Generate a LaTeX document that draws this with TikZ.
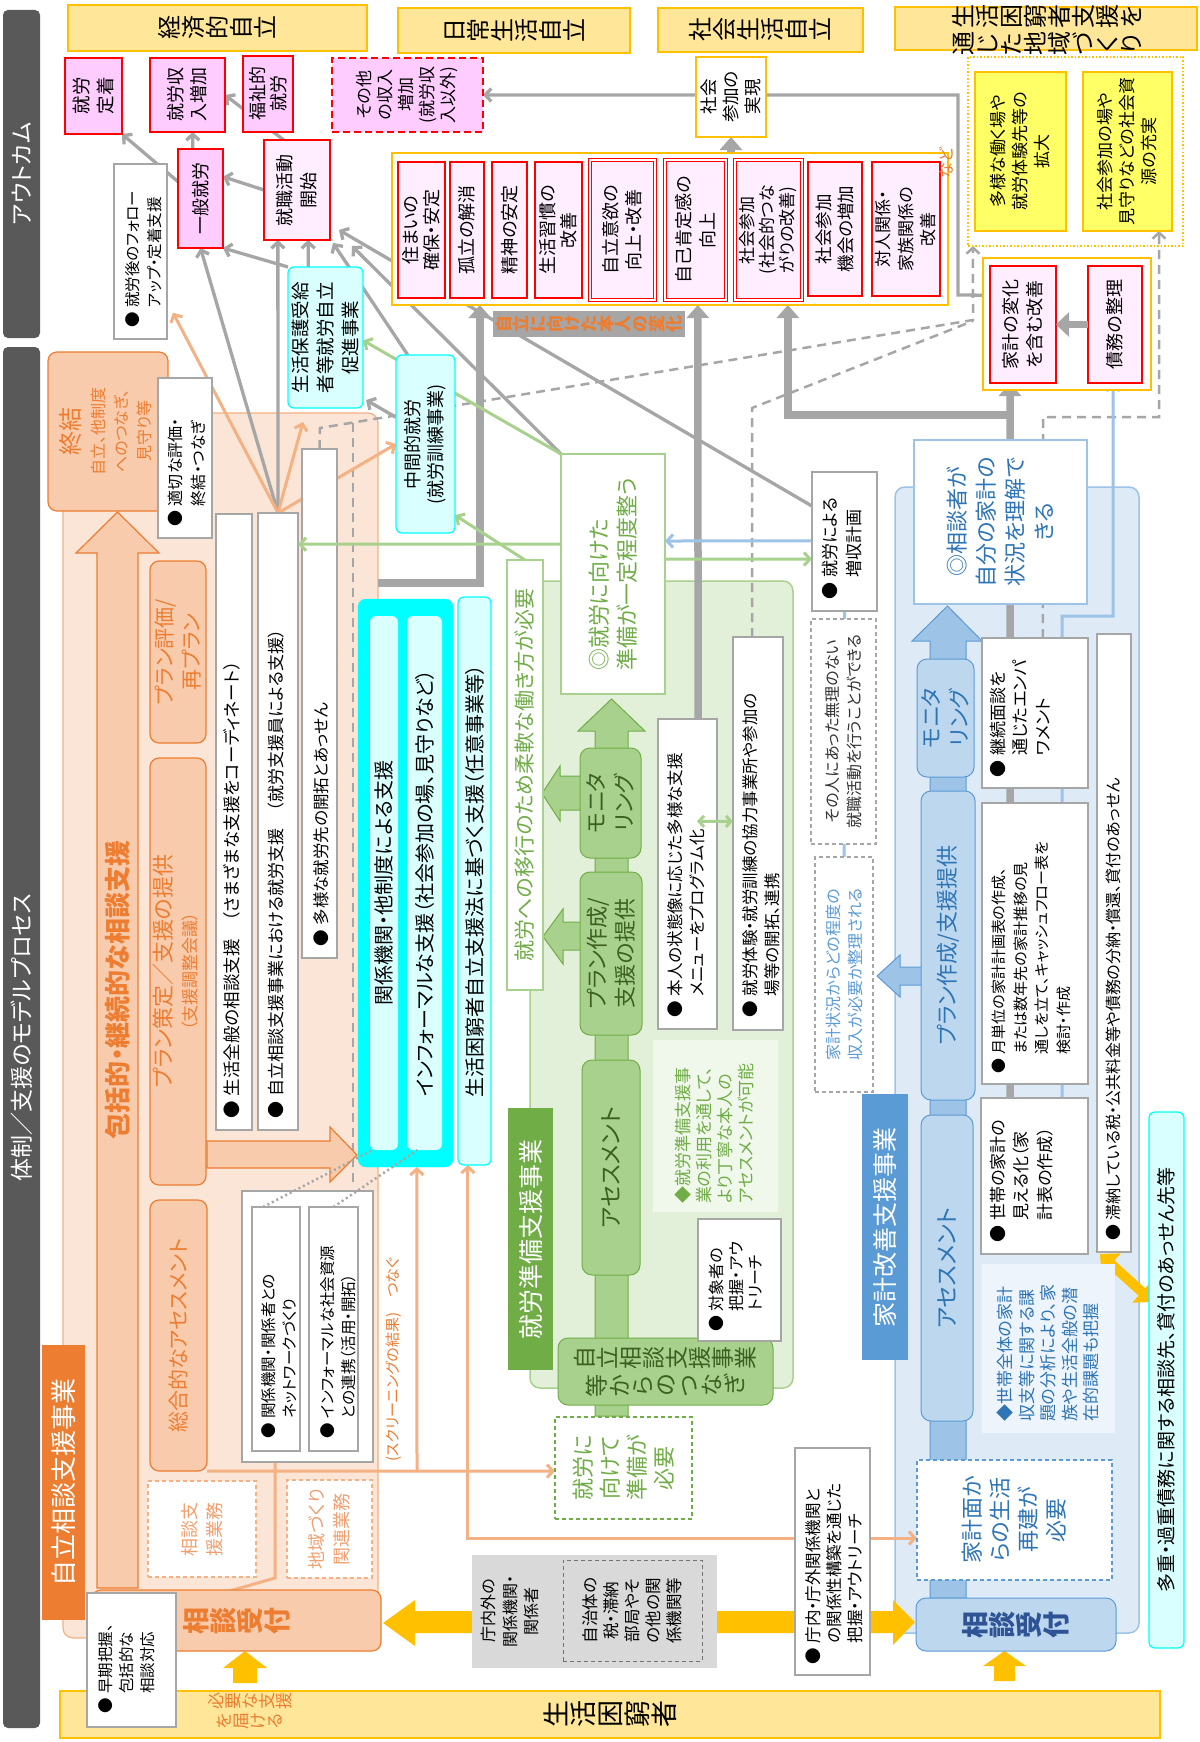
\documentclass[tikz,border=0pt]{standalone}
\usepackage{graphicx}
\usepackage{fontspec}
\setmainfont{Noto Sans CJK JP}[RawFeature={+palt}]
\usetikzlibrary{arrows.meta,fit,calc}
\ExplSyntaxOn
\NewDocumentCommand\tate{m}{\tl_map_inline:nn{#1}{\rotatebox[origin=c]{90}{\makebox[1em]{\rule[-0.12em]{0pt}{1em}##1}}}}
\ExplSyntaxOff
\newcommand\fs[2]{\fontsize{#1}{#2}\selectfont}
\newcommand\ltab[1]{\begin{tabular}{@{}l@{}}#1\end{tabular}}
\newcommand\bul[1]{\begin{tabular}{@{}l@{\hspace{0.3em}}l@{}}●&\begin{tabular}[t]{@{}l@{}}#1\end{tabular}\end{tabular}}
\newcommand\RB[6]{\node[#2,fit={(#3,#4)(#5,#6)}] (#1) {};}
\definecolor{dbar}{HTML}{595959}
\definecolor{hdrF}{HTML}{FFE699}
\definecolor{hdrD}{HTML}{FFC000}
\definecolor{pinkF}{HTML}{FFCCFF}
\definecolor{pinkL}{HTML}{FFEEFF}
\definecolor{redD}{HTML}{FF0000}
\definecolor{orD}{HTML}{ED7D31}
\definecolor{orM}{HTML}{F8CBAD}
\definecolor{orL}{HTML}{FBE5D6}
\definecolor{orLn}{HTML}{F4B183}
\definecolor{orT}{HTML}{F0A070}
\definecolor{grLn}{HTML}{A6A6A6}
\definecolor{grBx}{HTML}{A6A6A6}
\definecolor{gyF}{HTML}{D9D9D9}
\definecolor{cyD}{HTML}{00FFFF}
\definecolor{cyL}{HTML}{D9FFFF}
\definecolor{gnF}{HTML}{E2F0D9}
\definecolor{gnM}{HTML}{A9D18E}
\definecolor{gnD}{HTML}{70AD47}
\definecolor{gnX}{HTML}{3B6020}
\definecolor{gnN}{HTML}{F0F7EB}
\definecolor{blF}{HTML}{DEEBF7}
\definecolor{blM}{HTML}{BDD7EE}
\definecolor{blB}{HTML}{9DC3E6}
\definecolor{blD}{HTML}{5B9BD5}
\definecolor{blT}{HTML}{2E75B6}
\definecolor{blX}{HTML}{2F5496}
\definecolor{blN}{HTML}{EDF4FB}
\definecolor{ylA}{HTML}{FFC000}
\definecolor{ylB}{HTML}{FFFF66}
\tikzset{
 B/.style={inner sep=0pt,outer sep=0pt},
 tx/.style={rotate=90,align=center,inner sep=0pt},
 bl/.style={rotate=90,anchor=north west,inner sep=0pt},
 bar/.style={B,fill=dbar,rounded corners=5pt},
 hdr/.style={B,draw=hdrD,fill=hdrF,line width=1.5pt},
 obox/.style={B,draw=redD,fill=pinkF,line width=2.2pt},
 sbox/.style={obox,dash pattern=on 7pt off 4pt},
 pbox/.style={B,draw=redD,fill=pinkL,line width=2.2pt},
 dbox/.style={B,draw=redD,fill=pinkL,line width=1pt,double=white,double distance=1.6pt},
 wbox/.style={B,draw=grBx,fill=white,line width=1.3pt},
 wdash/.style={wbox,dash pattern=on 4pt off 3pt},
 ybox/.style={B,draw=hdrD,fill=white,line width=1.5pt},
 ydot/.style={B,draw=hdrD,line width=1.5pt,dash pattern=on 1.5pt off 2pt},
 yel/.style={B,draw=hdrD,fill=ylB,line width=1.5pt},
 obig/.style={B,draw=orD,fill=orM,line width=1.2pt,rounded corners=9pt},
 opanel/.style={B,draw=orLn,fill=orL,line width=1.2pt,rounded corners=10pt},
 odash/.style={B,draw=orLn,fill=white,line width=1.5pt,dash pattern=on 4pt off 3pt},
 olab/.style={B,fill=orD},
 cyo/.style={B,fill=cyD,draw=cyD,rounded corners=8pt},
 cyi/.style={B,fill=cyL,rounded corners=6pt},
 cyb/.style={B,fill=cyL,draw=cyD,line width=1.2pt,rounded corners=6pt},
 gpan/.style={B,fill=gnF,draw=gnM,line width=1.5pt,rounded corners=10pt},
 gpill/.style={B,fill=gnM,draw=gnD,line width=1pt,rounded corners=10pt},
 glab/.style={B,fill=gnD},
 gwb/.style={B,fill=white,draw=gnM,line width=1.3pt},
 gdash/.style={B,fill=white,draw=gnD,line width=1.3pt,dash pattern=on 4pt off 3pt},
 gnote/.style={B,fill=gnN},
 bpan/.style={B,fill=blF,draw=blB,line width=1.5pt,rounded corners=10pt},
 bpill/.style={B,fill=blM,draw=blD,line width=1pt,rounded corners=10pt},
 blab/.style={B,fill=blD},
 bwb/.style={B,fill=white,draw=blB,line width=1.5pt},
 bdash/.style={B,fill=white,draw=blD,line width=1.3pt,dash pattern=on 4pt off 3pt},
 bnote/.style={B,fill=blN},
 gybox/.style={B,fill=gyF},
 gyin/.style={B,draw=black!55,line width=1pt,dash pattern=on 4pt off 3pt},
 arw/.style={-{Straight Barb[length=6pt,width=13pt]}},
 gl/.style={draw=grLn,line width=3.3pt,arw},
 gt/.style={draw=grLn,line width=7.5pt,-{Triangle[length=13pt,width=22pt]}},
 gd/.style={draw=grLn,line width=2.5pt,dash pattern=on 9pt off 6pt},
 gdot/.style={draw=grLn,line width=2.5pt,dash pattern=on 2pt off 3pt},
 ol/.style={draw=orLn,line width=3pt},
 gg/.style={draw=gnM,line width=3pt},
 bln/.style={draw=blB,line width=3pt},
}
\begin{document}
\begin{tikzpicture}[x=1pt,y=-1pt]
\fill[white] (0,0) rectangle (1199,1742);
\path[use as bounding box] (0,0) rectangle (1199,1742);
% ---------- bars and headers
\RB{outbar}{bar}{3}{10}{40}{338}
\RB{procbar}{bar}{3}{347}{40}{1728}
\RB{h1}{hdr}{68}{5}{367}{51}
\RB{h2}{hdr}{398}{8}{630}{53}
\RB{h3}{hdr}{658}{8}{863}{52}
\RB{h4}{hdr}{895}{7}{1197}{50}
% ---------- panels
\RB{jiritsu}{opanel}{63}{413}{378}{1638}
\RB{gpanel}{gpan}{530}{581}{793}{1388}
\RB{bpanel}{bpan}{895}{487}{1139}{1633}
\RB{konkyu}{hdr}{60}{1691}{1160}{1738}
% ---------- anchor nodes used by connectors
\RB{teichaku}{B}{65}{58}{122}{134}
\RB{zoushu}{B}{150}{58}{225}{132}
\RB{fukushi}{B}{243}{56}{293}{132}
\RB{sonota}{B}{332}{58}{483}{132}
\RB{ippan}{B}{178}{149}{223}{248}
\RB{shushoku}{B}{264}{140}{330}{240}
\RB{follow}{B}{114}{164}{167}{339}
\RB{cont}{B}{392}{153}{948}{305}
\RB{jitsugen}{B}{696}{57}{766}{137}
\RB{chiiki}{B}{968}{57}{1183}{246}
\RB{y2}{B}{1083}{72}{1172}{231}
\RB{kv}{B}{990}{266}{1056}{383}
\RB{saimu}{B}{1088}{266}{1142}{383}
\RB{seiho}{B}{288}{267}{363}{408}
\RB{chukan}{B}{396}{355}{455}{533}
\RB{shien2}{B}{258}{513}{298}{1130}
\RB{tayoN}{B}{302}{449}{337}{958}
\RB{netbox}{B}{242}{1191}{373}{1462}
\RB{net1}{B}{252}{1207}{300}{1451}
\RB{net2}{B}{309}{1207}{358}{1451}
\RB{sogo}{B}{150}{1200}{207}{1471}
\RB{soki}{B}{87}{1593}{176}{1727}
\RB{cyout}{B}{358}{599}{453}{1167}
\RB{cy1}{B}{370}{616}{398}{1150}
\RB{cy2}{B}{407}{616}{442}{1150}
\RB{cy3}{B}{458}{597}{491}{1165}
\RB{junan}{B}{507}{560}{543}{990}
\RB{junbi}{B}{561}{454}{665}{694}
\RB{gneed}{B}{555}{1417}{692}{1519}
\RB{gb1}{B}{658}{719}{717}{1029}
\RB{gb2}{B}{733}{637}{783}{1030}
\RB{zoshu}{B}{812}{472}{877}{611}
\RB{kakeijokyo}{B}{815}{857}{873}{1092}
\RB{bk1}{B}{982}{638}{1088}{788}
\RB{bk3}{B}{981}{1098}{1088}{1254}
\RB{bneed}{B}{917}{1460}{1112}{1580}
\coordinate (dA) at (353,1182);
\coordinate (kbr) at (1010,415);
\coordinate (oj) at (417,1471);
\coordinate (ya) at (1100,1254);
\coordinate (yb) at (1153,1302);
% ---------- yellow band and arrows
\fill[ylA] (415,1611) -- (893,1611) -- (893,1600) -- (915,1622) -- (893,1645) -- (893,1633) -- (415,1633) -- (415,1646) -- (383,1623) -- (415,1600) -- cycle;
\fill[ylA] (233,1683) -- (233,1668) -- (223,1668) -- (245,1651) -- (267,1668) -- (257,1668) -- (257,1683) -- cycle;
\fill[ylA] (994,1681) -- (994,1666) -- (983,1666) -- (1004.5,1651) -- (1026,1666) -- (1015,1666) -- (1015,1681) -- cycle;
% ---------- thin gray connectors
\draw[gl] ($(shushoku.north west)!0.3!(shushoku.north east)$) -- ($(zoushu.north east)!0.5!(zoushu.south east)$);
\draw[gl] ($(ippan.north west)!0.33!(ippan.south west)$) -- (teichaku.south east);
\draw[gl] ($(ippan.north west)!0.33!(ippan.north east)$) -- ($(zoushu.south west)!0.57!(zoushu.south east)$);
\draw[gl] ($(shushoku.north west)!0.5!(shushoku.south west)$) -- ($(ippan.north east)!0.28!(ippan.south east)$);
\draw[gl] (shien2.north) -- ($(shushoku.south west)!0.21!(shushoku.south east)$);
\draw[gl] (shien2.north) -- ($(ippan.south west)!0.5!(ippan.south east)$);
\draw[gl] ($(seiho.north west)!0.27!(seiho.north east)$) -- ($(shushoku.south west)!0.67!(shushoku.south east)$);
\draw[gl] (seiho.north west) -- (ippan.south east);
\draw[gl] (junbi.north west) -- ($(shushoku.south east)+(22,6)$);
\draw[gl] ($(chukan.north west)!0.2!(chukan.north east)$) -- ($(shushoku.south east)+(3,3)$);
\draw[gl] ($(zoshu.north west)!0.245!(zoshu.south west)$) -- ($(shushoku.north east)!0.9!(shushoku.south east)+(9,0)$);
\draw[gl] ($(chukan.north west)!0.35!(chukan.south west)$) -- ($(seiho.south east)+(3,-8)$);
\draw[gl] ($(kv.north west)!0.25!(kv.south west)$) -- (958,295) -- (958,95) -- (sonota.east);
% ---------- thick gray connectors
\draw[gt] ($(jiritsu.north east)!0.1388!(jiritsu.south east)$) -| ($(cont.south west)!0.158!(cont.south east)$);
\draw[gt] ($(gb1.north west)!0.68!(gb1.north east)$) -- ($(cont.south west)!0.55!(cont.south east)$);
\draw[gt] ($(bk3.north west)!0.271!(bk3.north east)$) -- ($(kv.south west)!0.303!(kv.south east)$);
\draw[gt] (kbr) -| ($(cont.south west)!0.712!(cont.south east)$);
\draw[gt] (cont.north -| jitsugen.south) -- (jitsugen.south);
% ---------- dashed / dotted
\draw[gd,arw] (tayoN.north) -- (320,428) -- (973,320) -- ($(chiiki.south west)!0.023!(chiiki.south east)$);
\draw[gd] (dA) -- (353,422);
\draw[gd] ($(gb2.north west)!0.38!(gb2.north east)$) -- (752,408) -- (973,321);
\draw[gd,arw] ($(bk1.north west)!0.575!(bk1.north east)$) -- (1043,417) -- (1159,417) -- ($(y2.south west)!0.854!(y2.south east)$);
% ---------- orange connectors
\draw[ol,arw] (sogo.south east) -- ($(gneed.north west)!0.53!(gneed.south west)$);
\draw[ol,arw] (oj) -- ($(cyout.south west)!0.62!(cyout.south east)$);
\draw[ol,{Straight Barb[length=6pt,width=13pt]}-{Straight Barb[length=6pt,width=13pt]}] ($(cy3.south west)!0.3!(cy3.south east)$) |- ($(bneed.north west)!0.65!(bneed.south west)$);
\draw[ol,arw] ($(netbox.south west)!0.252!(netbox.south east)$) -- (275,1578) -- ($(soki.north east)!0.1!(soki.south east)$);
\draw[ol,arw] (shien2.north) -- ($(follow.east)!0.7!(follow.south east)+(6,0)$);
\draw[ol,arw] (shien2.north) -- ($(chukan.north west)!0.5!(chukan.south west)$);
\draw[ol,arw] (shien2.north) -- ($(seiho.south west)!0.2!(seiho.south east)+(0,14)$);
% ---------- green / blue connectors (under boxes)
\draw[gg,arw] (junbi.north west) -- ($(seiho.north east)!0.52!(seiho.south east)$);
\draw[gg,arw] (junan.north) -- ($(chukan.north east)!0.9!(chukan.south east)$);
\draw[gg,arw] ($(junbi.north east)!0.4375!(junbi.south east)$) -- ($(zoshu.north west)!0.626!(zoshu.south west)$);
\draw[bln,arw] ($(zoshu.north west)!0.496!(zoshu.south west)$) -- ($(junbi.north east)!0.3625!(junbi.south east)$);
\draw[bln] (zoshu.south) -- (kakeijokyo.north);
\draw[bln,arw] ($(bk3.north west)!0.757!(bk3.north east)$) -- (1062,616) -- (1113,616) -- ($(saimu.south west)!0.463!(saimu.south east)$);
\draw[ylA,line width=10pt,{Triangle[length=15pt,width=28pt]}-{Triangle[length=15pt,width=28pt]}] (ya) -- (yb);
% ---------- big shapes
\draw[orD,fill=orM,line width=1.2pt] (97,1588) -- (97,553) -- (76,553) -- (117.5,512) -- (159,553) -- (138,553) -- (138,1588) -- cycle;
\draw[orD,fill=orM,line width=1.2pt] (207,1141) -- (330,1141) -- (330,1127) -- (357,1155) -- (330,1182) -- (330,1168) -- (207,1168) -- cycle;
\draw[gnD,fill=gnM,line width=1pt] (595,1416) -- (595,731) -- (578,731) -- (611.5,699) -- (645,731) -- (628,731) -- (628,1416) -- cycle;
\draw[gnD,fill=gnM,line width=1pt] (581,776) -- (560,776) -- (560,766) -- (542,793.5) -- (560,821) -- (560,810) -- (581,810) -- cycle;
\draw[gnD,fill=gnM,line width=1pt] (581,922) -- (563,922) -- (563,909) -- (543,936.5) -- (563,964) -- (563,950) -- (581,950) -- cycle;
\draw[blD,fill=blB,line width=1pt] (930,1598) -- (930,641) -- (912,641) -- (947.5,606) -- (982,641) -- (966,641) -- (966,1598) -- cycle;
\draw[blD,fill=blB,line width=1pt] (922,967) -- (900,967) -- (900,955) -- (877,976) -- (900,997) -- (900,985) -- (922,985) -- cycle;
% ---------- outcome boxes
\RB{teichakuB}{obox}{65}{58}{122}{134}
\RB{zoushuB}{obox}{150}{58}{225}{132}
\RB{fukushiB}{obox}{243}{56}{293}{132}
\RB{sonotaB}{sbox}{332}{58}{483}{132}
\RB{ippanB}{obox}{178}{149}{223}{248}
\RB{shushokuB}{pbox}{264}{140}{330}{240}
\RB{followB}{wbox}{114}{164}{167}{339}
\RB{contB}{ybox}{392}{153}{948}{305}
\RB{c1}{pbox}{398}{162}{445}{298}
\RB{c2}{pbox}{450}{162}{484}{298}
\RB{c3}{pbox}{492}{162}{527}{298}
\RB{c4}{pbox}{535}{162}{582}{298}
\RB{c5}{dbox}{590}{160}{655}{300}
\RB{c6}{dbox}{665}{160}{726}{300}
\RB{c7}{dbox}{735}{160}{802}{300}
\RB{c8}{pbox}{808}{162}{862}{296}
\RB{c9}{pbox}{872}{162}{940}{296}
\RB{henka}{B,fill=grLn}{493}{311}{685}{337}
\RB{jitsugenB}{ybox}{696}{57}{766}{137}
\RB{chiikiB}{ydot}{968}{57}{1183}{246}
\RB{y1}{yel}{975}{72}{1066}{231}
\RB{y2B}{yel}{1083}{72}{1172}{231}
\RB{kakei}{ybox}{983}{258}{1151}{390}
\RB{kvB}{pbox}{990}{266}{1056}{383}
\RB{saimuB}{pbox}{1088}{266}{1142}{383}
\draw[draw=grLn,line width=7.5pt,-{Triangle[length=13pt,width=24pt]}] (saimuB.west) -- (kvB.east);
\RB{seihoB}{cyb}{288}{267}{363}{408}
\RB{chukanB}{cyb}{396}{355}{455}{533}
% ---------- self-reliance consultation panel
\RB{shuketsu}{obig}{48}{352}{168}{511}
\RB{tekisetsu}{wbox}{158}{378}{212}{538}
\RB{hyoka}{obig}{150}{561}{206}{743}
\RB{sakutei}{obig}{150}{758}{206}{1185}
\RB{sogoB}{obig}{150}{1200}{207}{1471}
\RB{sodan1}{wbox}{216}{514}{252}{1130}
\RB{shien2B}{wbox}{258}{513}{298}{1130}
\RB{tayo}{wbox}{302}{449}{337}{958}
\RB{netboxB}{wbox}{242}{1191}{373}{1462}
\RB{net1B}{wbox}{252}{1207}{300}{1451}
\RB{net2B}{wbox}{309}{1207}{358}{1451}
\RB{sgyomu}{odash}{148}{1481}{256}{1577}
\RB{cgyomu}{odash}{287}{1480}{372}{1578}
\RB{uketsukeO}{obig}{92}{1590}{381}{1651}
\RB{sokiB}{wbox}{87}{1593}{176}{1727}
\RB{jlabel}{olab}{42}{1345}{85}{1620}
% ---------- cyan boxes
\RB{cyoutB}{cyo}{358}{599}{453}{1167}
\RB{cy1B}{cyi}{370}{616}{398}{1150}
\RB{cy2B}{cyi}{407}{616}{442}{1150}
\RB{cy3B}{cyb}{458}{597}{491}{1165}
\draw[gdot] ($(net1.north west)!0.23!(net1.north east)$) -- ($(cy1.south west)!0.1!(cy1.south east)$);
\draw[gdot] ($(net2.north west)!0.5!(net2.north east)$) -- ($(cy2.south west)!0.3!(cy2.south east)$);
% ---------- green area
\RB{junanB}{gwb}{507}{560}{543}{990}
\RB{junbiB}{gwb}{561}{454}{665}{694}
\RB{glabel}{glab}{508}{1108}{553}{1370}
\RB{gmoni}{gpill}{580}{748}{641}{858}
\RB{gplan}{gpill}{580}{872}{642}{1035}
\RB{gasses}{gpill}{582}{1060}{640}{1275}
\RB{gtsunagi}{gpill}{558}{1338}{773}{1405}
\RB{gneedB}{gdash}{555}{1417}{692}{1519}
\RB{gb1B}{wbox}{658}{719}{717}{1029}
\RB{gb2B}{wbox}{733}{637}{783}{1030}
\RB{gnoteB}{gnote}{653}{1040}{778}{1212}
\RB{gb3}{wbox}{698}{1219}{781}{1341}
% ---------- blue area
\RB{blabel}{blab}{862}{1094}{908}{1360}
\RB{rikai}{bwb}{914}{440}{1087}{604}
\RB{bmoni}{bpill}{917}{659}{974}{777}
\RB{bplan}{bpill}{921}{791}{975}{1100}
\RB{bassess}{bpill}{921}{1115}{973}{1421}
\RB{bneedB}{bdash}{917}{1460}{1112}{1580}
\RB{bukt}{bpill}{916}{1598}{1116}{1651}
\RB{bk1B}{wbox}{982}{638}{1088}{788}
\RB{bk2}{wbox}{982}{803}{1088}{1084}
\RB{bk3B}{wbox}{981}{1098}{1088}{1254}
\RB{bk4}{wbox}{1097}{634}{1131}{1252}
\RB{bnoteB}{bnote}{982}{1264}{1115}{1433}
\RB{zoshuB}{wbox}{812}{472}{877}{611}
\RB{sonohito}{wdash}{811}{619}{876}{844}
\RB{kakeijokyoB}{wdash}{815}{857}{873}{1092}
\RB{tajyu}{cyb}{1149}{1112}{1184}{1648}
% ---------- bottom
\RB{graybox}{gybox}{472}{1555}{717}{1668}
\RB{grayin}{gyin}{563}{1560}{702}{1661}
\RB{chonai}{wbox}{795}{1448}{870}{1675}
% ---------- connectors drawn over boxes
\draw[gg,arw] ($(junbi.north west)!0.375!(junbi.south west)$) -- ($(shien2.north east)!0.0506!(shien2.south east)$);
\draw[gg,{Straight Barb[length=5pt,width=11pt]}-{Straight Barb[length=5pt,width=11pt]}] ($(gb1.north east)!0.33!(gb1.south east)+(-20,0)$) -- ($(gb2.north west)!0.469!(gb2.south west)$);
% ================= TEXT
\node[tx,text=white,font=\fs{23}{27}] (outbar-t) at (outbar) {アウトカム};
\node[tx,text=white,font=\fs{23}{27}] (procbar-t) at (procbar) {体制／支援のモデルプロセス};
\node[inner sep=0pt,font=\fs{24}{28}] (h1-t) at (h1) {\tate{経済的自立}};
\node[inner sep=0pt,font=\fs{24}{28}] (h2-t) at (h2) {\tate{日常生活自立}};
\node[inner sep=0pt,font=\fs{24}{28}] (h3-t) at (h3) {\tate{社会生活自立}};
\node[inner sep=0pt,align=center,font=\fs{24}{27}] (h4-t) at (1047,30.5) {\tate{生活困窮者支援を}\\\tate{通じた地域づくり}};
\node[tx,font=\fs{18.5}{24}] (teichaku-t) at (teichaku) {就労\\定着};
\node[tx,font=\fs{18}{23}] (zoushu-t) at (zoushu) {就労収\\入増加};
\node[tx,font=\fs{18}{21}] (fukushi-t) at (fukushi) {福祉的\\就労};
\node[tx,font=\fs{17}{21}] (sonota-t) at (sonota) {その他\\の収入\\増加\\(就労収\\入以外)};
\node[tx,font=\fs{18}{23}] (ippan-t) at (ippan) {一般就労};
\node[tx,font=\fs{18}{24}] (shushoku-t) at (shushoku) {就職活動\\開始};
\node[bl,font=\fs{15.5}{22}] (follow-t) at (122.5,328) {\bul{就労後のフォロー\\アップ・定着支援}};
\node[tx,font=\fs{18}{21}] (c1-t) at (c1) {住まいの\\確保・安定};
\node[tx,font=\fs{18}{21}] (c2-t) at (c2) {孤立の解消};
\node[tx,font=\fs{18}{21}] (c3-t) at (c3) {精神の安定};
\node[tx,font=\fs{18}{21}] (c4-t) at (c4) {生活習慣の\\改善};
\node[tx,font=\fs{18}{23}] (c5-t) at (c5) {自立意欲の\\向上・改善};
\node[tx,font=\fs{18}{24}] (c6-t) at (c6) {自己肯定感の\\向上};
\node[tx,font=\fs{17}{20}] (c7-t) at (c7) {社会参加\\(社会的つな\\がりの改善)};
\node[tx,font=\fs{17.5}{22}] (c8-t) at (c8) {社会参加\\機会の増加};
\node[tx,font=\fs{17}{22.5}] (c9-t) at (c9) {対人関係・\\家族関係の\\改善};
\node[tx,text=orD,font=\fs{16}{18}] (nado) at (946,163) {など};
\node[inner sep=0pt,text=orD,font=\fs{17}{20}\bfseries] (henka-t) at (henka) {\tate{自立に向けた本人の変化}};
\node[tx,font=\fs{17.5}{22}] (jitsugen-t) at (jitsugen) {社会\\参加の\\実現};
\node[tx,font=\fs{17}{22}] (y1-t) at (y1) {多様な働く場や\\就労体験先等の\\拡大};
\node[tx,font=\fs{17}{22}] (y2-t) at (y2) {社会参加の場や\\見守りなどの社会資\\源の充実};
\node[tx,font=\fs{18}{24}] (kv-t) at (kv) {家計の変化\\を含む改善};
\node[tx,font=\fs{18}{24}] (saimu-t) at (saimu) {債務の整理};
\node[tx,font=\fs{18.5}{25}] (seiho-t) at (seiho) {生活保護受給\\者等就労自立\\促進事業};
\node[tx,font=\fs{18}{23}] (chukan-t) at (chukan) {中間的就労\\(就労訓練事業)};
% orange panel texts
\node[tx,text=orD,font=\fs{24}{28}] (shuketsu-t) at (70,431) {終結};
\node[tx,text=orD,font=\fs{16}{23}] (shuketsu-s) at (121,431) {自立、他制度\\へのつなぎ、\\見守り等};
\node[bl,font=\fs{16}{23}] (tekisetsu-t) at (165,527) {\bul{適切な評価・\\終結・つなぎ}};
\node[tx,text=orD,font=\fs{26}{30}\bfseries] (hokatsu-t) at (118,990) {包括的・継続的な相談支援};
\node[tx,text=orD,font=\fs{21}{27}] (hyoka-t) at (hyoka) {プラン評価/\\再プラン};
\node[tx,text=orD,font=\fs{22}{25}] (sakutei-t) at (sakutei) {\begin{tabular}{@{}c@{}}プラン策定／支援の提供\\{\fs{17}{25}（支援調整会議）}\end{tabular}};
\node[tx,text=orD,font=\fs{21}{25}] (sogo-t) at (sogo) {総合的なアセスメント};
\node[bl,font=\fs{17.5}{22}] (sodan1-t) at (223.3,1119) {\bul{生活全般の相談支援　（さまざまな支援をコーディネート）}};
\node[bl,font=\fs{17}{22}] (shien2-t) at (266.4,1119) {\bul{自立相談支援事業における就労支援　（就労支援員による支援）}};
\node[bl,font=\fs{16.5}{22}] (tayo-t) at (311.5,947) {\bul{多様な就労先の開拓とあっせん}};
\node[bl,font=\fs{15.5}{21}] (net1-t) at (259.4,1439) {\bul{関係機関・関係者との\\ネットワークづくり}};
\node[bl,font=\fs{15.5}{21}] (net2-t) at (318.4,1439) {\bul{インフォーマルな社会資源\\との連携（活用・開拓）}};
\node[tx,text=orT,font=\fs{18}{25}] (sgyomu-t) at (sgyomu) {相談支\\援業務};
\node[tx,text=orT,font=\fs{18}{25}] (cgyomu-t) at (cgyomu) {地域づくり\\関連業務};
\node[inner sep=0pt,text=orD,font=\fs{27}{30}\bfseries] (uketsukeO-t) at (uketsukeO) {\tate{相談受付}};
\node[bl,font=\fs{15.5}{21}] (soki-t) at (96.2,1714) {\bul{早期把握、\\包括的な\\相談対応}};
\node[tx,text=white,font=\fs{26}{30}] (jlabel-t) at (jlabel) {自立相談支援事業};
\node[rotate=90,anchor=west,inner sep=0pt,text=orD,font=\fs{15}{18}] (screen-t) at (394,1462) {(スクリーニングの結果)　つなぐ};
% cyan texts
\node[tx,font=\fs{20}{24}] (cy1-t) at (cy1) {関係機関・他制度による支援};
\node[tx,font=\fs{20}{24}] (cy2-t) at (cy2) {インフォーマルな支援（社会参加の場、見守りなど）};
\node[tx,font=\fs{20}{24}] (cy3-t) at (cy3) {生活困窮者自立支援法に基づく支援（任意事業等）};
% green texts
\node[tx,text=gnD,font=\fs{21}{25}] (junan-t) at (junan) {就労への移行のため柔軟な働き方が必要};
\node[rotate=90,align=left,inner sep=0pt,text=gnD,font=\fs{22}{28}] (junbi-t) at (junbi) {◎就労に向けた\\準備が一定程度整う};
\node[tx,text=white,font=\fs{25}{29}] (glabel-t) at (glabel) {就労準備支援事業};
\node[tx,text=gnX,font=\fs{22}{28}] (gmoni-t) at (gmoni) {モニタ\\リング};
\node[tx,text=gnX,font=\fs{22}{28}] (gplan-t) at (gplan) {プラン作成/\\支援の提供};
\node[tx,text=gnX,font=\fs{23}{28}] (gasses-t) at (gasses) {アセスメント};
\node[inner sep=0pt,align=center,text=gnX,font=\fs{23}{28}] (gtsunagi-t) at (gtsunagi) {\tate{自立相談支援事業}\\\tate{等からのつなぎ}};
\node[tx,text=gnD,font=\fs{22}{27}] (gneed-t) at (gneed) {就労に\\向けて\\準備が\\必要};
\node[bl,font=\fs{16.5}{22}] (gb1-t) at (665.9,1018) {\bul{本人の状態像に応じた多様な支援\\メニューをプログラム化}};
\node[bl,font=\fs{16.5}{22}] (gb2-t) at (740.9,1018) {\bul{就労体験・就労訓練の協力事業所や参加の\\場等の開拓、連携}};
\node[bl,text=gnD,font=\fs{17}{21}] (gnote-t) at (674.8,1204) {\ltab{◆就労準備支援事\\業の利用を通して、\\より丁寧な本人の\\アセスメントが可能}};
\node[bl,font=\fs{16}{19.5}] (gb3-t) at (708.8,1332) {\bul{対象者の\\把握・アウ\\トリーチ}};
% blue texts
\node[tx,text=white,font=\fs{25}{29}] (blabel-t) at (blabel) {家計改善支援事業};
\node[tx,text=blT,font=\fs{22}{29}] (rikai-t) at (rikai) {◎相談者が\\自分の家計の\\状況を理解で\\きる};
\node[tx,text=blT,font=\fs{22}{28}] (bmoni-t) at (bmoni) {モニタ\\リング};
\node[tx,text=blT,font=\fs{22}{28}] (bplan-t) at (bplan) {プラン作成/支援提供};
\node[tx,text=blT,font=\fs{23}{28}] (bassess-t) at (bassess) {アセスメント};
\node[tx,text=blT,font=\fs{22}{28}] (bneed-t) at (bneed) {家計面か\\らの生活\\再建が\\必要};
\node[inner sep=0pt,text=blX,font=\fs{27}{30}\bfseries] (bukt-t) at (bukt) {\tate{相談受付}};
\node[bl,font=\fs{17}{22.5}] (bk1-t) at (988.4,778) {\bul{継続面談を\\通じたエンパ\\ワメント}};
\node[bl,font=\fs{15}{21.5}] (bk2-t) at (989.6,1074) {\bul{月単位の家計計画表の作成、\\または数年先の家計推移の見\\通しを立て、キャッシュフロー表を\\検討・作成}};
\node[bl,font=\fs{17}{23.5}] (bk3-t) at (987.7,1243) {\bul{世帯の家計の\\見える化（家\\計表の作成）}};
\node[bl,font=\fs{16}{21}] (bk4-t) at (1104.4,1241) {\bul{滞納している税・公共料金等や債務の分納・償還、貸付のあっせん}};
\node[bl,text=blT,font=\fs{17}{21.5}] (bnote-t) at (996.4,1422) {\ltab{◆世帯全体の家計\\収支等に関する課\\題の分析により、家\\族や生活全般の潜\\在的課題も把握}};
\node[bl,font=\fs{17}{24}] (zoshu-t) at (819.7,600) {\bul{就労による\\増収計画}};
\node[tx,text=black!80,font=\fs{16}{22}] (sonohito-t) at (sonohito) {その人にあった無理のない\\就職活動を行うことができる};
\node[tx,text=blD,font=\fs{16}{22}] (kakeijokyo-t) at (kakeijokyo) {家計状況からどの程度の\\収入が必要か整理される};
\node[tx,font=\fs{19}{23}] (tajyu-t) at (tajyu) {多重・過重債務に関する相談先、貸付のあっせん先等};
% bottom texts
\node[inner sep=0pt,font=\fs{27}{32}] (konkyu-t) at (610,1714) {\tate{生活困窮者}};
\node[inner sep=0pt,align=center,text=orD,font=\fs{17}{20}] (todoke-t) at (250,1711) {\tate{必要な支援}\\\tate{を届ける}};
\node[tx,font=\fs{16}{21.5}] (graybox-t) at (510,1611) {庁内外の\\関係機関・\\関係者};
\node[tx,font=\fs{16.5}{21}] (grayin-t) at (grayin) {自治体の\\税・滞納\\部局やそ\\の他の関\\係機関等};
\node[bl,font=\fs{16.5}{21}] (chonai-t) at (804.6,1665) {\bul{庁内・庁外関係機関と\\の関係性構築を通じた\\把握・アウトリーチ}};
\end{tikzpicture}
\end{document}
